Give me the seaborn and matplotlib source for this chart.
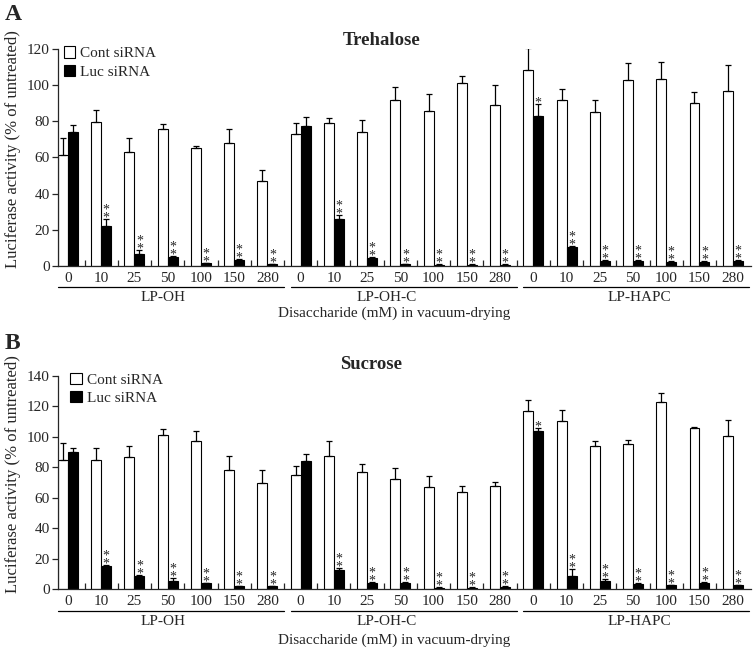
import numpy as np
import pandas as pd
import matplotlib
matplotlib.use("Agg")
import matplotlib.pyplot as plt
import seaborn as sns
from matplotlib.patches import Patch

doses = ["0", "10", "25", "50", "100", "150", "280"]
lipids = ["LP-OH", "LP-OH-C", "LP-HAPC"]
treatments = ["Cont siRNA", "Luc siRNA"]

# panel A - trehalose
tre_cont = [61.5, 79.5, 63, 76, 65.5, 68, 47,
            73, 79, 74, 92, 85.5, 101, 89,
            108.5, 92, 85, 103, 103.5, 90, 97]
tre_cont_err = [9.5, 7, 8, 2.5, 1, 7.5, 6,
                6, 3, 7, 7, 9.5, 4, 11,
                12, 6, 7, 9.5, 9.5, 6, 14]
tre_luc = [74, 22, 6.5, 4.8, 1.5, 3.3, 1.1,
           77.5, 26, 4.2, 1.1, 0.7, 0.7, 0.7,
           83, 10.5, 2.9, 2.8, 2.4, 2.2, 2.8]
tre_luc_err = [3.7, 4, 2.5, 0.8, 0.3, 0.3, 0.2,
               5, 2, 0.6, 0.2, 0.2, 0.2, 0.2,
               6.5, 0.5, 0.3, 0.3, 0.3, 0.3, 0.3]

# panel B - sucrose
suc_cont = [85, 85, 86.5, 101, 97, 78.5, 70,
            75, 87.5, 77, 72.5, 67, 64, 67.5,
            117, 110.5, 94, 95, 123, 106, 100.5]
suc_cont_err = [11, 8, 7.5, 4, 7, 9, 8,
                6, 9.5, 5, 7, 7.5, 3.5, 3,
                7.5, 7, 3.5, 3, 5.5, 0.3, 10.5]
suc_luc = [90, 15, 8.5, 5.5, 3.7, 1.7, 1.7,
           84, 12.5, 3.9, 4.2, 0.9, 0.9, 1.5,
           104, 8.5, 5, 3.3, 2.4, 3.9, 2.6]
suc_luc_err = [3, 1, 1, 1.5, 0.3, 0.3, 0.3,
               5, 1.5, 0.5, 0.5, 0.2, 0.2, 0.2,
               2, 4.5, 1.5, 0.5, 0.3, 0.7, 0.3]

sig = ["", "**", "**", "**", "**", "**", "**",
       "", "**", "**", "**", "**", "**", "**",
       "*", "**", "**", "**", "**", "**", "**"]

sns.set_style("ticks")
plt.rcParams["font.family"] = ["Liberation Serif", "DejaVu Serif"]
plt.rcParams["axes.linewidth"] = 0.9

FS = 11


def draw_panel(ax, cont, cont_err, luc, luc_err, ymax, title, title_x, title_y,
               line_y, grp_y, xlab_y, leg_x, leg_y):
    n = len(cont)
    df = pd.DataFrame({
        "pos": list(range(n)) * 2,
        "value": cont + luc,
        "treatment": [treatments[0]] * n + [treatments[1]] * n,
    })
    sns.barplot(data=df, x="pos", y="value", hue="treatment", hue_order=treatments,
                palette=["white", "black"], width=0.6, edgecolor="black",
                linewidth=0.8, errorbar=None, saturation=1, legend=False, ax=ax)
    bars = ax.patches
    xc = [b.get_x() + b.get_width() / 2 for b in bars[:n]]
    xl = [b.get_x() + b.get_width() / 2 for b in bars[n:2 * n]]
    ax.errorbar(xc, cont, yerr=[np.zeros(n), cont_err], fmt="none", ecolor="black",
                elinewidth=0.9, capsize=2.2, capthick=0.9)
    ax.errorbar(xl, luc, yerr=[np.zeros(n), luc_err], fmt="none", ecolor="black",
                elinewidth=0.9, capsize=2.2, capthick=0.9)
    for x, v, e, s in zip(xl, luc, luc_err, sig):
        if s:
            ax.annotate("\n".join(s), (x, v + e), xytext=(0, -4), textcoords="offset points",
                        ha="center", va="bottom", fontsize=10, linespacing=0.5)

    ax.set_xlim(-0.3, 20.55)
    ax.set_ylim(0, ymax)
    ax.set_yticks(np.arange(0, ymax + 1, 20))
    ax.set_xticks(range(n))
    ax.set_xticklabels(doses * 3, fontsize=FS)
    ax.set_xticks(np.arange(0.5, n - 1, 1), minor=True)
    ax.tick_params(axis="x", which="major", length=0, pad=4)
    ax.tick_params(axis="x", which="minor", direction="in", length=4, width=0.9)
    ax.tick_params(axis="y", direction="out", length=4, width=0.9, labelsize=FS, pad=2)
    sns.despine(ax=ax)
    ax.set_xlabel("")
    ax.set_ylabel("Luciferase activity (% of untreated)", fontsize=12)
    ax.yaxis.set_label_coords(-0.053, 0.54)

    tr = ax.get_xaxis_transform()
    grp_x = [2.85, 9.6, 17.2]
    for k, name in enumerate(lipids):
        ax.plot([7 * k - 0.3, 7 * k + 6.5], [line_y, line_y], color="black", lw=0.9,
                transform=tr, clip_on=False)
        ax.text(grp_x[k], grp_y, name, transform=tr, ha="center", va="center", fontsize=FS)
    ax.text(0.485, xlab_y, "Disaccharide (mM) in vacuum-drying", transform=ax.transAxes,
            ha="center", va="center", fontsize=FS)
    ax.text(title_x, title_y, title, transform=ax.transAxes, ha="center", va="center",
            fontsize=13.5, fontweight="bold")

    handles = [Patch(facecolor="white", edgecolor="black", lw=0.8, label=treatments[0]),
               Patch(facecolor="black", edgecolor="black", lw=0.8, label=treatments[1])]
    ax.legend(handles=handles, loc="upper left", bbox_to_anchor=(leg_x, leg_y), frameon=False,
              handlelength=0.75, handleheight=0.75, handletextpad=0.3, labelspacing=0.3,
              borderpad=0, borderaxespad=0, fontsize=FS)


fig = plt.figure(figsize=(7.56, 6.52), dpi=100)
ax1 = fig.add_axes([58 / 756, 1 - 266 / 652, 693 / 756, 217 / 652])
ax2 = fig.add_axes([58 / 756, 1 - 589 / 652, 693 / 756, 213 / 652])

draw_panel(ax1, tre_cont, tre_cont_err, tre_luc, tre_luc_err, 120, "Trehalose",
           0.467, 1.04, -0.097, -0.147, -0.217, 0.008, 1.012)
draw_panel(ax2, suc_cont, suc_cont_err, suc_luc, suc_luc_err, 140, "Sucrose",
           0.452, 1.052, -0.103, -0.153, -0.239, 0.018, 1.016)

fig.text(5 / 756, 1 - 4 / 652, "A", ha="left", va="top", fontsize=17, fontweight="bold")
fig.text(5 / 756, 1 - 333 / 652, "B", ha="left", va="top", fontsize=17, fontweight="bold")

fig.savefig("out.png", dpi=100)
